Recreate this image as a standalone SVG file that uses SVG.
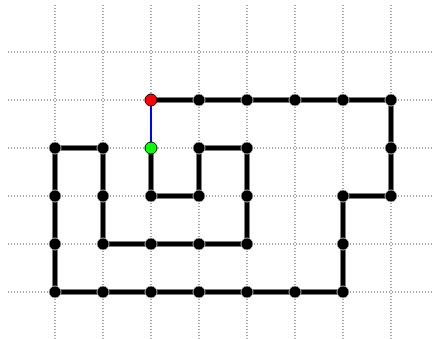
<svg xmlns="http://www.w3.org/2000/svg" width="432" height="339" viewBox="0 0 432 339">
<style>
.grid line{stroke:#555;stroke-width:1;stroke-dasharray:1 2}
.edge{stroke:#000;stroke-width:5;fill:none;stroke-linejoin:round}
.blue{stroke:#0000ff;stroke-width:2}
.n{fill:#000;stroke:#ccc;stroke-width:0.8}
</style>
<rect width="432" height="339" fill="#fff"/>
<g class="grid">
<line x1="8" y1="52" x2="432" y2="52"/>
<line x1="8" y1="100" x2="432" y2="100"/>
<line x1="8" y1="148" x2="432" y2="148"/>
<line x1="8" y1="196" x2="432" y2="196"/>
<line x1="8" y1="244" x2="432" y2="244"/>
<line x1="8" y1="292" x2="432" y2="292"/>
<line x1="55" y1="5" x2="55" y2="339"/>
<line x1="103" y1="5" x2="103" y2="339"/>
<line x1="151" y1="5" x2="151" y2="339"/>
<line x1="199" y1="5" x2="199" y2="339"/>
<line x1="247" y1="5" x2="247" y2="339"/>
<line x1="295" y1="5" x2="295" y2="339"/>
<line x1="343" y1="5" x2="343" y2="339"/>
<line x1="391" y1="5" x2="391" y2="339"/>
</g>
<g id="connectors">
<line class="blue" x1="151" y1="100" x2="151" y2="148"/>
<polyline class="edge" points="151,148 151,196 199,196 199,148 247,148 247,196 247,244 199,244 151,244 103,244 103,196 103,148 55,148 55,196 55,244 55,292 103,292 151,292 199,292 247,292 295,292 343,292 343,244 343,196 391,196 391,148 391,100 343,100 295,100 247,100 199,100 151,100"/>
</g>
<g id="nodes">
<g id="n1"><circle class="n" cx="151" cy="196" r="6"/></g>
<g id="n2"><circle class="n" cx="199" cy="196" r="6"/></g>
<g id="n3"><circle class="n" cx="199" cy="148" r="6"/></g>
<g id="n4"><circle class="n" cx="247" cy="148" r="6"/></g>
<g id="n5"><circle class="n" cx="247" cy="196" r="6"/></g>
<g id="n6"><circle class="n" cx="247" cy="244" r="6"/></g>
<g id="n7"><circle class="n" cx="199" cy="244" r="6"/></g>
<g id="n8"><circle class="n" cx="151" cy="244" r="6"/></g>
<g id="n9"><circle class="n" cx="103" cy="244" r="6"/></g>
<g id="n10"><circle class="n" cx="103" cy="196" r="6"/></g>
<g id="n11"><circle class="n" cx="103" cy="148" r="6"/></g>
<g id="n12"><circle class="n" cx="55" cy="148" r="6"/></g>
<g id="n13"><circle class="n" cx="55" cy="196" r="6"/></g>
<g id="n14"><circle class="n" cx="55" cy="244" r="6"/></g>
<g id="n15"><circle class="n" cx="55" cy="292" r="6"/></g>
<g id="n16"><circle class="n" cx="103" cy="292" r="6"/></g>
<g id="n17"><circle class="n" cx="151" cy="292" r="6"/></g>
<g id="n18"><circle class="n" cx="199" cy="292" r="6"/></g>
<g id="n19"><circle class="n" cx="247" cy="292" r="6"/></g>
<g id="n20"><circle class="n" cx="295" cy="292" r="6"/></g>
<g id="n21"><circle class="n" cx="343" cy="292" r="6"/></g>
<g id="n22"><circle class="n" cx="343" cy="244" r="6"/></g>
<g id="n23"><circle class="n" cx="343" cy="196" r="6"/></g>
<g id="n24"><circle class="n" cx="391" cy="196" r="6"/></g>
<g id="n25"><circle class="n" cx="391" cy="148" r="6"/></g>
<g id="n26"><circle class="n" cx="391" cy="100" r="6"/></g>
<g id="n27"><circle class="n" cx="343" cy="100" r="6"/></g>
<g id="n28"><circle class="n" cx="295" cy="100" r="6"/></g>
<g id="n29"><circle class="n" cx="247" cy="100" r="6"/></g>
<g id="n30"><circle class="n" cx="199" cy="100" r="6"/></g>
<g id="start"><circle cx="151" cy="100" r="6" fill="#ff0000" stroke="#000" stroke-width="1"/></g>
<g id="end"><circle cx="151" cy="148" r="6" fill="#00ff00" stroke="#000" stroke-width="1"/></g>
</g>
</svg>
